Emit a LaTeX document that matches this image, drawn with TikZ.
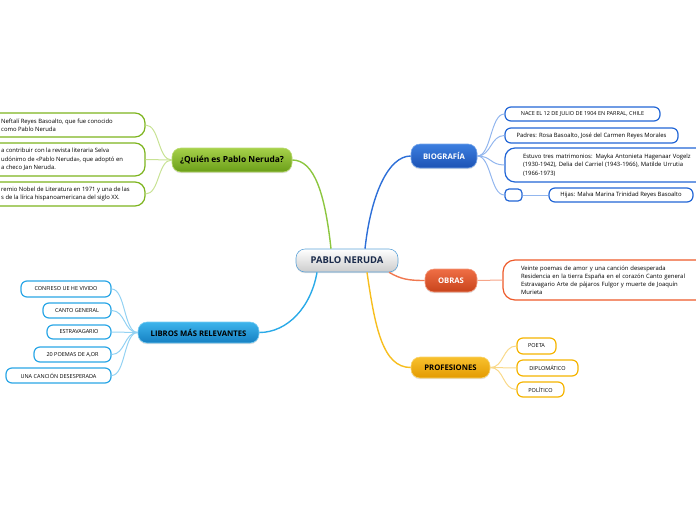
\documentclass[tikz,border=0pt]{standalone}
\usepackage{fontspec}
\setmainfont{Open Sans}
\usetikzlibrary{shadows}
\definecolor{gMain}{HTML}{8CC63F}
\definecolor{gLeaf}{HTML}{7DB41E}
\definecolor{gLine}{HTML}{C8E294}
\definecolor{gTop}{HTML}{A6D14A}
\definecolor{gBot}{HTML}{6A9E18}
\definecolor{bMain}{HTML}{2D6FD8}
\definecolor{bLeaf}{HTML}{2266D6}
\definecolor{bLine}{HTML}{92B6EE}
\definecolor{bTop}{HTML}{3C7FE0}
\definecolor{bBot}{HTML}{1C52B4}
\definecolor{oMain}{HTML}{F07850}
\definecolor{oLeaf}{HTML}{EE5A2A}
\definecolor{oLine}{HTML}{F6A589}
\definecolor{oTop}{HTML}{EF6E45}
\definecolor{oBot}{HTML}{C8441C}
\definecolor{yMain}{HTML}{F7BE1E}
\definecolor{yLeaf}{HTML}{F5B400}
\definecolor{yLine}{HTML}{F9D98A}
\definecolor{yTop}{HTML}{F8C12E}
\definecolor{yBot}{HTML}{E39A00}
\definecolor{lMain}{HTML}{2AAAE8}
\definecolor{lLeaf}{HTML}{2AA6E6}
\definecolor{lLine}{HTML}{93D2F3}
\definecolor{lTop}{HTML}{3DB4EC}
\definecolor{lBot}{HTML}{1580C2}
\definecolor{cBorder}{HTML}{5DA3D8}
\definecolor{cText}{HTML}{1A2A4A}
\begin{document}
\begin{tikzpicture}[x=1pt,y=-1pt,
  topic/.style={rounded corners=9pt, draw, line width=0.6pt, inner sep=0pt,
    font=\bfseries\fontsize{7.7}{9}\selectfont, align=center,
    drop shadow={shadow xshift=0pt, shadow yshift=-1.2pt, opacity=0.25}},
  leaf/.style={rounded corners=6pt, draw, line width=1.2pt, fill=white, inner sep=0pt,
    font=\fontsize{5.5}{8}\selectfont, align=center},
  mleaf/.style={leaf, font=\fontsize{5.9}{8.4}\selectfont},
  gbox/.style={leaf, draw=gLeaf, rounded corners=10pt, minimum width=165pt},
  gtext/.style={anchor=west, inner sep=0pt, align=left, font=\fontsize{5.9}{8.4}\selectfont},
  mainline/.style={line width=1.4pt},
  leafline/.style={line width=1pt}
]
\useasboundingbox (0,0) rectangle (696,520);
\clip (0,0) rectangle (696,520);

% central
\node[topic, draw=cBorder, top color=white, bottom color=black!20, text=cText,
  minimum width=102pt, minimum height=23pt, font=\bfseries\fontsize{9.4}{11}\selectfont] (c) at (347,260.5) {PABLO NERUDA};

% main topics
\node[topic, draw=gTop!80!white, top color=gTop, bottom color=gBot, text=black,
  minimum width=120pt, minimum height=24pt, font=\bfseries\fontsize{8.4}{10}\selectfont] (quien) at (232,160) {¿Quién es Pablo Neruda?};
\node[topic, draw=bTop!70!white, top color=bTop, bottom color=bBot, text=white,
  minimum width=66pt, minimum height=24pt] (bio) at (444,156) {BIOGRAFÍA};
\node[topic, draw=oTop!70!white, top color=oTop, bottom color=oBot, text=white,
  minimum width=52pt, minimum height=23pt] (obras) at (451,280.5) {OBRAS};
\node[topic, draw=yTop!70!white, top color=yTop, bottom color=yBot, text=black,
  minimum width=79pt, minimum height=21pt] (prof) at (450.5,367.5) {PROFESIONES};
\node[topic, draw=lTop!70!white, top color=lTop, bottom color=lBot, text=black,
  minimum width=121pt, minimum height=21pt] (libros) at (198.5,332.5) {LIBROS MÁS RELEVANTES};

% main connectors
\draw[mainline, gMain] ([xshift=-16pt]c.north) .. controls +(-6,-55) and +(22,0) .. (quien.east);
\draw[mainline, bMain] ([xshift=18pt]c.north) .. controls +(6,-55) and +(-22,0) .. (bio.west);
\draw[mainline, lMain] ([xshift=-30pt]c.south) .. controls +(-6,35) and +(28,0) .. (libros.east);
\draw[mainline, yMain] ([xshift=20pt]c.south) .. controls +(8,55) and +(-28,0) .. (prof.west);
\draw[mainline, oMain] ([xshift=42pt]c.south) .. controls +(12,7) and +(-16,0) .. (obras.west);

% quien leaves
\node[gbox, minimum height=24pt] (q1) at (62.5,125) {};
\node[gtext] (q1t) at (1,125) {Neftalí Reyes Basoalto, que fue conocido\\como Pablo Neruda};
\node[gbox, minimum height=33pt] (q2) at (62.5,159.5) {};
\node[gtext] (q2t) at (1,159.5) {a contribuir con la revista literaria Selva\\udónimo de «Pablo Neruda», que adoptó en\\a checo Jan Neruda.};
\node[gbox, minimum height=24pt] (q3) at (62.5,194) {};
\node[gtext] (q3t) at (1,194) {remio Nobel de Literatura en 1971 y una de las\\s de la lírica hispanoamericana del siglo XX.};
\foreach \n in {q1,q2,q3}
  \draw[leafline, gLine] (quien.west) .. controls +(-14,0) and +(14,0) .. (\n.east);

% bio leaves
\node[leaf, draw=bLeaf, minimum width=155pt, minimum height=14pt] (b1) at (582.5,114)
  {NACE EL 12 DE JULIO DE 1904 EN PARRAL, CHILE};
\node[mleaf, draw=bLeaf, minimum width=173pt, minimum height=15pt] (b2) at (591.5,135.5)
  {Padres: Rosa Basoalto, José del Carmen Reyes Morales};
\node[mleaf, draw=bLeaf, align=left, rounded corners=10pt, minimum height=34pt, inner xsep=18pt, text width=179pt] (b3) at (612.5,165)
  {Estuvo tres matrimonios: Mayka Antonieta Hagenaar Vogelz\\(1930-1942), Delia del Carriel (1943-1966), Matilde Urrutia\\(1966-1973)};
\node[leaf, draw=bLeaf, minimum width=17pt, minimum height=12pt, rounded corners=4pt] (b4) at (513.5,195) {};
\node[mleaf, draw=bLeaf, minimum width=144pt, minimum height=14pt] (b5) at (621,195)
  {Hijas: Malva Marina Trinidad Reyes Basoalto};
\foreach \n in {b1,b2,b3,b4}
  \draw[leafline, bLine] (bio.east) .. controls +(14,0) and +(-14,0) .. (\n.west);
\draw[leafline, bLine] (b4.east) -- (b5.west);

% obras leaf
\node[mleaf, draw=oLeaf, align=left, rounded corners=12pt, minimum height=40pt, inner xsep=18pt, text width=201pt, font=\fontsize{5.9}{8}\selectfont] (o1) at (621.5,280)
  {Veinte poemas de amor y una canción desesperada\\Residencia en la tierra España en el corazón Canto general\\Estravagario Arte de pájaros Fulgor y muerte de Joaquín\\Murieta};
\draw[leafline, oLine] (obras.east) -- (o1.west);

% profesiones leaves
\node[leaf, draw=yLeaf, minimum width=39pt, minimum height=16pt] (p1) at (536.5,346) {POETA};
\node[leaf, draw=yLeaf, minimum width=61pt, minimum height=16pt] (p2) at (547.5,368) {DIPLOMÁTICO};
\node[leaf, draw=yLeaf, minimum width=47pt, minimum height=15pt] (p3) at (540.5,389.5) {POLÍTICO};
\foreach \n in {p1,p2,p3}
  \draw[leafline, yLine] (prof.east) .. controls +(14,0) and +(-14,0) .. (\n.west);

% libros leaves
\node[leaf, draw=lLeaf, minimum width=90pt, minimum height=16pt] (l1) at (66,289) {CONFIESO UE HE VIVIDO};
\node[leaf, draw=lLeaf, minimum width=68pt, minimum height=15pt] (l2) at (77,310.5) {CANTO GENERAL};
\node[leaf, draw=lLeaf, minimum width=64pt, minimum height=14pt] (l3) at (79,332) {ESTRAVAGARIO};
\node[leaf, draw=lLeaf, minimum width=77pt, minimum height=15pt] (l4) at (72.5,354.5) {20 POEMAS DE A,OR};
\node[leaf, draw=lLeaf, minimum width=105pt, minimum height=15pt] (l5) at (58.5,375.5) {UNA CANCIÓN DESESPERADA};
\foreach \n in {l1,l2,l3,l4,l5}
  \draw[leafline, lLine] (libros.west) .. controls +(-14,0) and +(14,0) .. (\n.east);
\end{tikzpicture}
\end{document}
